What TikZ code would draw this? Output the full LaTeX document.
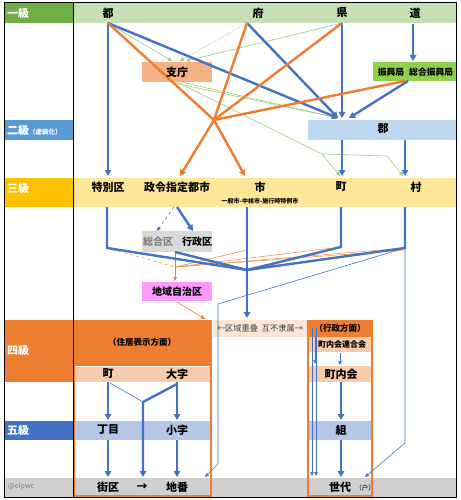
\documentclass[tikz,border=0pt]{standalone}
\usepackage{fontspec}
\setmainfont{Noto Sans CJK JP}
\usetikzlibrary{arrows.meta}
\definecolor{gdark}{HTML}{70AD47}
\definecolor{glight}{HTML}{C5E0B4}
\definecolor{gbright}{HTML}{92D050}
\definecolor{gthin}{HTML}{9CCC7C}
\definecolor{salmon}{HTML}{F4B183}
\definecolor{btwo}{HTML}{5B9BD5}
\definecolor{blight}{HTML}{BDD7EE}
\definecolor{ythree}{HTML}{FFC000}
\definecolor{ylight}{HTML}{FFE699}
\definecolor{graybox}{HTML}{D9D9D9}
\definecolor{pinkbox}{HTML}{FF99FF}
\definecolor{corange}{HTML}{ED7D31}
\definecolor{orl}{HTML}{F8CBAD}
\definecolor{orll}{HTML}{FBE5D6}
\definecolor{cblue}{HTML}{4472C4}
\definecolor{bfivel}{HTML}{B4C7E7}
\definecolor{graybot}{HTML}{D0CECE}
\begin{document}
\begin{tikzpicture}[x=1pt,y=-1pt,
  bt/.style={draw=cblue,line width=2.4pt,-{Triangle[length=6pt,width=6.5pt]}},
  btn/.style={draw=cblue,line width=2.4pt,line join=round},
  ot/.style={draw=corange,line width=2.4pt,-{Triangle[length=6pt,width=6.5pt]}},
  otn/.style={draw=corange,line width=2.4pt},
  tb/.style={draw=cblue,line width=0.6pt,-{Triangle[length=4pt,width=3.5pt]}},
  tbn/.style={draw=cblue,line width=0.6pt},
  tho/.style={draw=corange,line width=0.6pt,-{Triangle[length=4pt,width=3.5pt]}},
  thon/.style={draw=corange!80,line width=0.6pt},
  tg/.style={draw=gthin,line width=0.6pt,-{Triangle[length=4pt,width=4pt]}},
  tgn/.style={draw=gthin,line width=0.6pt},
  box/.style={inner sep=0pt,outer sep=0pt},
  L/.style={font=\bfseries\fontsize{11}{12}\selectfont,inner sep=0pt},
  M/.style={font=\bfseries\fontsize{8.5}{9}\selectfont,inner sep=0pt},
  Wt/.style={text=white,font=\bfseries\fontsize{11}{12}\selectfont,inner sep=0pt,anchor=west},
]
\useasboundingbox (0,0) rectangle (460,500);
\fill[white] (0,0) rectangle (460,500);
% ---- bands
\fill[glight] (73,3) rectangle (456,23);
\fill[gdark] (4,3) rectangle (73,23);
\fill[btwo] (4,120) rectangle (73,140);
\fill[ythree] (4,178) rectangle (73,207);
\fill[ylight] (73,178) rectangle (456,207);
\fill[corange] (4,320) rectangle (73,382);
\fill[cblue] (4,421) rectangle (73,440);
\fill[bfivel] (73,421) rectangle (212,440);
\fill[bfivel] (308,421) rectangle (372,440);
\fill[graybot] (4,478) rectangle (456,497);
% ---- boxes
\node[box,fill=salmon,minimum width=70pt,minimum height=20pt] (shichoBox) at (177,72) {};
\node[box,fill=gbright,minimum width=83pt,minimum height=19pt] (shinkoBox) at (414.5,71.5) {};
\node[box,fill=blight,minimum width=148pt,minimum height=20pt] (gunBox) at (382,130) {};
\node[box,fill=graybox,minimum width=70pt,minimum height=21pt] (kuBox) at (177,241.5) {};
\node[box,fill=pinkbox,minimum width=70pt,minimum height=19pt] (chiikiBox) at (177,291.5) {};
\node[box,fill=orll,minimum width=95pt,minimum height=17pt] (kuikiBox) at (260,328) {};
% left frame block
\fill[corange] (73,320) rectangle (212,366);
\fill[orl] (75,367) rectangle (211,382);
% right frame block
\fill[corange] (307,320) rectangle (373,337);
\fill[orl] (309,337) rectangle (371,352);
\fill[orl] (309,366) rectangle (371,382);
\draw[corange,line width=2pt] (74,321) rectangle (211,496);
\draw[corange,line width=2pt] (308,321) rectangle (372,496);
% outer frame
\draw[black,line width=1pt] (4,3) rectangle (456,497);
\draw[black,line width=1pt] (73,3) -- (73,497);
% ---- coordinates
\coordinate (pTo) at (108,23);
\coordinate (pFu) at (247,23);
\coordinate (pKen) at (342,23);
\coordinate (pDo) at (413,24);
\coordinate (pSkO) at (405,81);
\coordinate (pSkB) at (408,81);
\coordinate (hubO) at (214,120);
\coordinate (gunA) at (338,118);
\coordinate (gunB) at (342,118);
\coordinate (gunC) at (349,118);
\coordinate (gBend) at (322,154);
\coordinate (gBend2) at (387,156);
\coordinate (hubB) at (247,270);
\coordinate (hubT) at (175,267);
\coordinate (cTk) at (107,248);
\coordinate (cCho) at (341,247);
\coordinate (cSon) at (405,248);
% ---- green thin
\draw[tg] (pTo) -- (172,61);
\draw[tg,dash pattern=on 1pt off 1pt] (pFu) -- (180,61);
\draw[tg] (pKen) -- (186,61);
\draw[tg] (170,82) -- (gunA);
\draw[tg] (181,82) -- (gunA);
\draw[tgn] (177,82) -- (gBend);
\draw[tg] (gBend) -- (340,176);
\draw[tg] (gBend) -- (gBend2) -- (403,176);
% ---- blue thick (upper)
\draw[bt] (pTo) -- (108,176);
\draw[bt] (pTo) -- (gunA);
\draw[bt] (pFu) -- (gunA);
\draw[bt] (pKen) -- (gunB);
\draw[bt] (pSkB) -- (gunC);
\draw[bt] (pDo) -- (413,61);
\draw[bt] (342,140) -- (342,176);
\draw[bt] (405,140) -- (405,176);
% ---- orange thick
\draw[otn] (pTo) -- (hubO);
\draw[otn] (pFu) -- (hubO);
\draw[otn] (pKen) -- (hubO);
\draw[otn] (pSkO) -- (hubO);
\draw[ot] (hubO) -- (180,176);
\draw[ot] (hubO) -- (245,176);
% ---- middle
\draw[tb,dashed] (174,207) -- (157,231);
\draw[bt] (177,207) -- (193,231);
\draw[thon,dashed] (cTk) -- (hubT);
\draw[thon] (247,250) -- (hubT);
\draw[thon] (cCho) -- (hubT);
\draw[thon] (cSon) -- (hubT);
\draw[thon] (405,250) -- (hubT);
\draw[tho] (175,252) -- (175,281);
\draw[tho] (177,302) -- (205,319);
\draw[btn] (107,207) -- (cTk) -- (hubB);
\draw[btn] (175,252) -- (hubB);
\draw[btn] (341,207) -- (cCho) -- (hubB);
\draw[btn] (405,207) -- (cSon) -- (hubB);
\draw[bt] (247,207) -- (247,318);
\draw[tb] (cSon) -- (218,304) -- (218,464) -- (205,477);
\draw[tb] (cSon) -- (405,443) -- (365,477);
% ---- lower left
\draw[bt] (108,382) -- (108,420);
\draw[bt] (177,382) -- (177,420);
\draw[bt] (108,440) -- (108,477);
\draw[bt] (177,440) -- (177,477);
\draw[tbn] (110,383) -- (143,402);
\draw[bt] (177,384) -- (143,402) -- (143,477);
% ---- lower right
\draw[tb] (312,328) -- (312,476);
\draw[tb] (316,328) -- (316,476);
\draw[tb] (315,337) -- (315,364);
\draw[tb] (340,353) -- (340,365);
\draw[bt] (341,382) -- (341,420);
\draw[bt] (341,440) -- (341,477);
% ---- left labels
\node[Wt] (l1) at (7,13) {一級};
\node[Wt] (l2) at (7,130) {二級{\fontsize{6.5}{7}\selectfont （虚級化）}};
\node[Wt] (l3) at (7,188) {三級};
\node[Wt] (l4) at (7,350) {四級};
\node[Wt] (l5) at (7,430) {五級};
\node[anchor=west,text=gray,font=\fontsize{7}{8}\selectfont,inner sep=0pt] (sig) at (8,487) {@elpwc};
% ---- texts
\node[L] (nTo) at (108,13) {都};
\node[L] (nFu) at (258,13) {府};
\node[L] (nKen) at (342,13) {県};
\node[L] (nDo) at (415,13) {道};
\node[L] (nShicho) at (177,72) {支庁};
\node[font=\bfseries\fontsize{8.8}{9.5}\selectfont,inner sep=0pt] (nShinko) at (415.5,72) {振興局\hspace{5pt}総合振興局};
\node[L] (nGun) at (383,129) {郡};
\node[L] (nTk) at (108,187) {特別区};
\node[L] (nSeirei) at (177,187) {政令指定都市};
\node[L] (nShi) at (260,187) {市};
\node[font=\bfseries\fontsize{6}{7}\selectfont,inner sep=0pt] (nShiSub) at (260,201) {一般市-中核市-施行時特例市};
\node[L] (nCho) at (341,187) {町};
\node[L] (nSon) at (416,187) {村};
\node[font=\bfseries\fontsize{10}{11}\selectfont,inner sep=0pt,text=gray] (nSogo) at (158,241.5) {総合区};
\node[font=\bfseries\fontsize{10}{11}\selectfont,inner sep=0pt] (nGyosei) at (197,241.5) {行政区};
\node[font=\bfseries\fontsize{10}{11}\selectfont,inner sep=0pt] (nChiiki) at (177,291.5) {地域自治区};
\node[font=\fontsize{8.2}{9}\selectfont,inner sep=0pt,text=black!75] (nKuiki) at (260,328) {←区域重叠\hspace{4pt}互不隶属→};
\node[M] (nJukyo) at (142,342) {（住居表示方面）};
\node[L] (nMachi) at (108,374) {町};
\node[L] (nOaza) at (177,374) {大字};
\node[L] (nChome) at (108,430) {丁目};
\node[L] (nKoaza) at (177,430) {小字};
\node[L] (nGaiku) at (108,487) {街区};
\node[L] (nArr) at (142,487) {→};
\node[L] (nChiban) at (177,487) {地番};
\node[M] (nGyoseiH) at (340,328) {（行政方面）};
\node[font=\bfseries\fontsize{8}{9}\selectfont,inner sep=0pt] (nRengo) at (342,344.5) {町内会連合会};
\node[L] (nChonai) at (341,374) {町内会};
\node[L] (nKumi) at (341,430) {組};
\node[L] (nSedai) at (340,487) {世代};
\node[font=\fontsize{6.5}{7}\selectfont,inner sep=0pt] (nKo) at (365,488) {（户）};
\end{tikzpicture}
\end{document}
